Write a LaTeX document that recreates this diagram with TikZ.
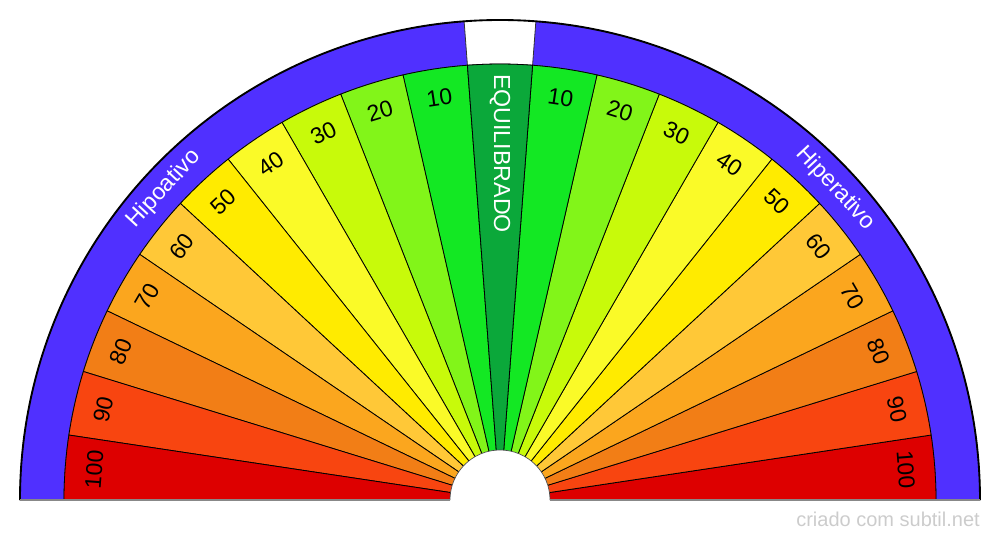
\documentclass[tikz,border=0pt]{standalone}
\usepackage{fontspec}
\setmainfont{Liberation Sans}
\definecolor{cband}{HTML}{5030FF}
\definecolor{c100}{HTML}{DD0000}
\definecolor{c90}{HTML}{F84510}
\definecolor{c80}{HTML}{F27E16}
\definecolor{c70}{HTML}{FBA61E}
\definecolor{c60}{HTML}{FFC837}
\definecolor{c50}{HTML}{FFEB00}
\definecolor{c40}{HTML}{FAFA28}
\definecolor{c30}{HTML}{C8FA0A}
\definecolor{c20}{HTML}{82F519}
\definecolor{c10}{HTML}{13E823}
\definecolor{ceq}{HTML}{0BA83A}
\definecolor{cmark}{HTML}{CCCCCC}
\definecolor{cbase}{HTML}{888888}
\tikzset{
  wedgestyle/.style={draw=black, line width=0.6pt, line join=round},
  bandstyle/.style={draw=black!80, line width=0.6pt, fill=cband},
  numlabel/.style={font=\fontsize{17.2}{20}\selectfont, text=black, inner sep=0pt},
  bandlabel/.style={font=\fontsize{17.4}{20}\selectfont, text=white, inner sep=0pt},
  marklabel/.style={font=\fontsize{15}{18}\selectfont, text=cmark, inner sep=0pt}
}
\begin{document}
\begin{tikzpicture}[x=0.75pt,y=0.75pt]
\useasboundingbox (-500,-40) rectangle (500,500);
\def\wa{8.5714286}
% outer background semicircle
\fill[white] (480,0) arc[start angle=0,end angle=180,radius=480] -- cycle;
% purple bands
\draw[bandstyle] (0:436) -- (0:480) arc[start angle=0,end angle=85.7142857,radius=480] -- (85.7142857:436) arc[start angle=85.7142857,end angle=0,radius=436] -- cycle;
\draw[bandstyle] (94.2857143:436) -- (94.2857143:480) arc[start angle=94.2857143,end angle=180,radius=480] -- (180:436) arc[start angle=180,end angle=94.2857143,radius=436] -- cycle;
\draw[black!80, line width=0.6pt] (85.7142857:436) arc[start angle=85.7142857,end angle=94.2857143,radius=436];
% wedges
\foreach \i/\c/\t in {0/c100/100,1/c90/90,2/c80/80,3/c70/70,4/c60/60,5/c50/50,6/c40/40,7/c30/30,8/c20/20,9/c10/10,
                      11/c10/10,12/c20/20,13/c30/30,14/c40/40,15/c50/50,16/c60/60,17/c70/70,18/c80/80,19/c90/90,20/c100/100}{
  \pgfmathsetmacro{\s}{\i*\wa}
  \pgfmathsetmacro{\e}{(\i+1)*\wa}
  \pgfmathsetmacro{\m}{(\i+0.5)*\wa}
  \draw[wedgestyle, fill=\c] (0,0) -- (\s:436) arc[start angle=\s,end angle=\e,radius=436] -- cycle;
  \node[numlabel, rotate=\m-90] (lab\i) at (\m:407) {\t};
}
\draw[wedgestyle, fill=ceq] (0,0) -- (85.7142857:436) arc[start angle=85.7142857,end angle=94.2857143,radius=436] -- cycle;
\node[bandlabel, rotate=-90, anchor=west] (eq) at (90:426) {EQUILIBRADO};
% outer arc
\draw[black, line width=1.4pt] (480,0) arc[start angle=0,end angle=180,radius=480];
% hole
\fill[white] (50,-3) -- (50,0) arc[start angle=0,end angle=180,radius=50] -- (-50,-3) -- cycle;
\draw[black!70, line width=0.5pt] (50,0) arc[start angle=0,end angle=180,radius=50];
% base line
\draw[cbase, line width=1.5pt] (-480,0) -- (-50,0);
\draw[cbase, line width=1.5pt] (50,0) -- (480,0);
% band labels
\node[bandlabel, rotate=47.2] (hipo) at (137.2:458) {Hipoativo};
\node[bandlabel, rotate=-47.1] (hiper) at (42.9:458) {Hiperativo};
% watermark
\node[marklabel, anchor=east] (mark) at (480,-19) {criado com subtil.net};
\end{tikzpicture}
\end{document}
